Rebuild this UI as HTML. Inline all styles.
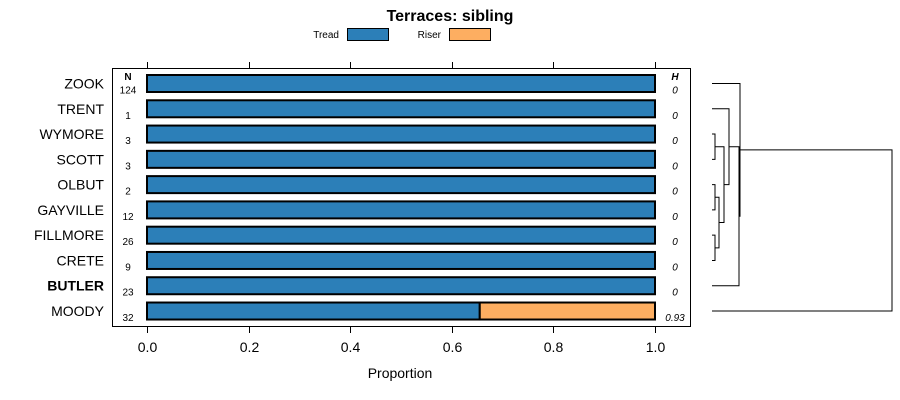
<!DOCTYPE html>
<html><head><meta charset="utf-8">
<style>
body{margin:0;background:#fff;}
svg{display:block;font-family:"Liberation Sans",sans-serif;}
</style></head>
<body>
<svg id="chart" width="900" height="400">
<text x="450" y="21" text-anchor="middle" font-size="16" font-weight="bold">Terraces: sibling</text>
<g>
<text x="339" y="38" text-anchor="end" font-size="10">Tread</text>
<rect x="347.5" y="28.5" width="41" height="12" fill="#2c7fb8" stroke="#000"/>
<text x="441" y="38" text-anchor="end" font-size="10">Riser</text>
<rect x="449.5" y="28.5" width="41" height="12" fill="#fdae61" stroke="#000"/>
</g>
<rect x="112.5" y="68.5" width="578" height="258" fill="none" stroke="#000"/>
<text x="128" y="80" text-anchor="middle" font-size="10" font-weight="bold">N</text>
<text x="675" y="80" text-anchor="middle" font-size="10" font-weight="bold" font-style="italic">H</text>
<text x="400" y="378" text-anchor="middle" font-size="14">Proportion</text>
<g id="bars"></g><g id="axis"></g><g id="dendro"></g>
</svg>
<script>
const categories=["ZOOK","TRENT","WYMORE","SCOTT","OLBUT","GAYVILLE","FILLMORE","CRETE","BUTLER","MOODY"];
const counts=[124,1,3,3,2,12,26,9,23,32];
const tread=[1,1,1,1,1,1,1,1,1,0.655];
const riser=[0,0,0,0,0,0,0,0,0,0.345];
const hvals=["0","0","0","0","0","0","0","0","0","0.93"];
const ticks=[0,0.2,0.4,0.6,0.8,1.0];
const tickLabels=["0.0","0.2","0.4","0.6","0.8","1.0"];
const NS="http://www.w3.org/2000/svg";
const x=v=>147+v*508;
const y=i=>83.5+i*25.28;
function mk(tag,attrs,parent,text){const e=document.createElementNS(NS,tag);for(const k in attrs)e.setAttribute(k,attrs[k]);if(text!==undefined)e.textContent=text;parent.appendChild(e);return e;}
const bars=document.getElementById('bars');
categories.forEach((c,i)=>{
  const cy=y(i);
  const lab=mk('text',{x:104,y:cy+5,'text-anchor':'end','font-size':14,'font-weight':c==="BUTLER"?"bold":"normal"},bars,c);
  
  
  const n=mk('text',{x:128,y:cy+10,'text-anchor':'middle','font-size':10},bars,String(counts[i]));
  
  
  const h=mk('text',{x:675,y:cy+10,'text-anchor':'middle','font-size':10,'font-style':'italic'},bars,hvals[i]);
  
  
  const b1=mk('rect',{x:x(0),y:cy-8.5,width:x(tread[i])-x(0),height:17,fill:'#2c7fb8',stroke:'#000','stroke-width':2},bars);
  
  
  if(riser[i]>0){
    const b2=mk('rect',{x:x(tread[i]),y:cy-8.5,width:x(tread[i]+riser[i])-x(tread[i]),height:17,fill:'#fdae61',stroke:'#000','stroke-width':2},bars);
    
    
  }
});
const axis=document.getElementById('axis');
ticks.forEach((t,i)=>{
  const px=Math.round(x(t))+0.5;
  const tk=mk('line',{x1:px,x2:px,y1:327,y2:333,stroke:'#000'},axis);
  
  
  const tt=mk('line',{x1:px,x2:px,y1:62,y2:68,stroke:'#000'},axis);
  
  
  const tl=mk('text',{x:px,y:352,'text-anchor':'middle','font-size':14},axis,tickLabels[i]);
  
  
});
const merges=[[2,3,715],[4,5,715],[6,7,715],[-2,-3,719],[-1,-4,724],[1,-5,729],[-6,8,739],[0,-7,740],[-8,9,892]];
const dg=document.getElementById('dendro');
const node=[];
function pos(k){return k>=0?{y:y(k),h:712}:node[-k-1];}
merges.forEach(m=>{
  const a=pos(m[0]),b=pos(m[1]),h=m[2];
  const p=mk('path',{d:`M${a.h},${a.y}H${h}V${b.y}H${b.h}`,fill:'none',stroke:'#000'},dg);
  
  
  node.push({y:(a.y+b.y)/2,h:h});
});
</script>
</body></html>
